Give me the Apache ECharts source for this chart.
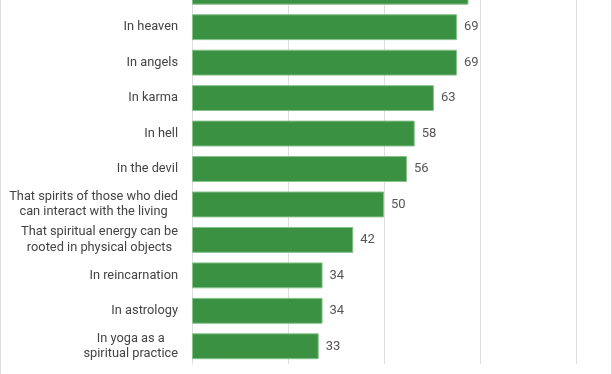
<!DOCTYPE html>
<html><head><meta charset="utf-8">
<script src="https://cdn.jsdelivr.net/npm/echarts@6/dist/echarts.min.js"></script>
<style>html,body{margin:0;padding:0;background:#fff;overflow:hidden}#wrap{position:relative;width:612px;height:374px;overflow:hidden}#c{position:absolute;left:0;top:-26px;width:612px;height:400px}
#bl,#br{position:absolute;top:0;width:1px;height:374px;background:#dcdcdc}#bl{left:0}#br{left:611px}</style>
</head><body><div id="wrap"><div id="c"></div><div id="bl"></div><div id="br"></div></div>
<script>
const categories = [
  "In God",
  "In heaven",
  "In angels",
  "In karma",
  "In hell",
  "In the devil",
  "That spirits of those who died\ncan interact with the living",
  "That spiritual energy can be\nrooted in physical objects",
  "In reincarnation",
  "In astrology",
  "In yoga as a\nspiritual practice"
];
const values = [72, 69, 69, 63, 58, 56, 50, 42, 34, 34, 33];
const xTicks = [0, 25, 50, 75, 100];

const chart = echarts.init(document.getElementById('c'), null, {renderer: 'canvas'});
chart.setOption({
  animation: false,
  grid: {left: 192, right: 36, top: 0, bottom: 10, containLabel: false},
  xAxis: {
    type: 'value', min: xTicks[0], max: xTicks[xTicks.length - 1], interval: 25,
    axisLabel: {show: false},
    axisLine: {show: false}, axisTick: {show: false},
    splitLine: {lineStyle: {color: '#dedede', width: 1}}
  },
  yAxis: {
    type: 'category', data: categories, inverse: true,
    axisLine: {show: true, lineStyle: {color: '#dedede'}},
    axisTick: {show: false},
    axisLabel: {
      margin: 14, color: '#444', fontFamily: 'Roboto', fontSize: 12.8, lineHeight: 15.5, align: 'right',
      formatter: v => v.split('\n').map(s => '{c|' + s + '}').join('\n'),
      rich: {c: {align: 'center', color: '#444', fontFamily: 'Roboto', fontSize: 12.8, lineHeight: 15.5}}
    }
  },
  series: [{
    type: 'bar', data: values, barCategoryGap: '27%',
    itemStyle: {color: '#3a9142', borderColor: '#86c28a', borderWidth: 1},
    label: {show: true, position: 'right', distance: 7, color: '#555', fontFamily: 'Roboto', fontSize: 13}
  }]
});
</script></body></html>
